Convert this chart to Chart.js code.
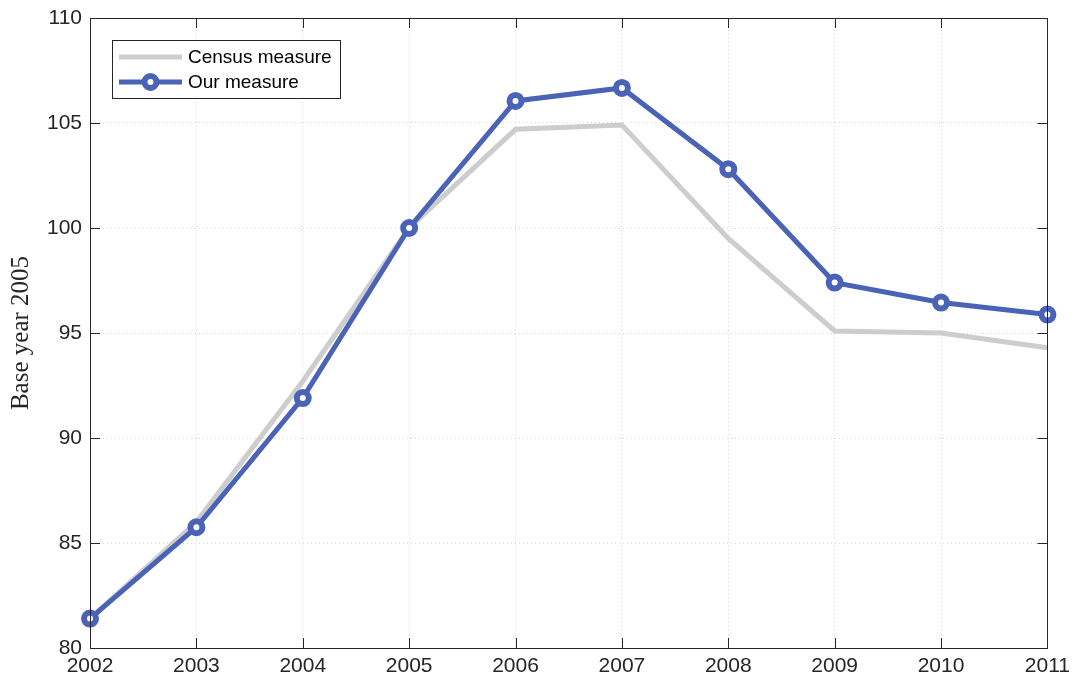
<!DOCTYPE html>
<html>
<head>
<meta charset="utf-8">
<script src="https://cdn.jsdelivr.net/npm/chart.js@4/dist/chart.umd.min.js"></script>
<style>
  html, body { margin: 0; padding: 0; background: #fff; }
  #wrap { width: 1076px; height: 687px; }
</style>
</head>
<body>
<div id="wrap"><canvas id="c" width="1076" height="687"></canvas></div>
<script>
// Index values, base year 2005 = 100
const years = ['2002', '2003', '2004', '2005', '2006', '2007', '2008', '2009', '2010', '2011'];
const censusMeasure = [81.4, 86.0, 92.7, 100.0, 104.7, 104.9, 99.5, 95.1, 95.0, 94.3];
const ourMeasure = [81.4, 85.75, 91.9, 100.0, 106.05, 106.67, 102.8, 97.4, 96.45, 95.88];
const yTicks = [80, 85, 90, 95, 100, 105, 110];

const AXIS_COLOR = '#262626';
const FONT = '"Liberation Sans", Arial, sans-serif';

// Box around the plot, inward tick marks on all four sides, and the legend box
const boxPlugin = {
  id: 'boxAxes',
  afterDatasetsDraw(chart) {
    const { ctx, chartArea: a, scales } = chart;
    const tl = 10;
    ctx.save();
    ctx.strokeStyle = AXIS_COLOR;
    ctx.lineWidth = 1;
    ctx.beginPath();
    ctx.rect(Math.round(a.left) + 0.5, Math.round(a.top) + 0.5,
             Math.round(a.right - a.left), Math.round(a.bottom - a.top));
    ctx.stroke();
    ctx.beginPath();
    scales.x.ticks.forEach((t, i) => {
      const x = Math.round(scales.x.getPixelForTick(i)) + 0.5;
      ctx.moveTo(x, a.bottom); ctx.lineTo(x, a.bottom - tl);
      ctx.moveTo(x, a.top); ctx.lineTo(x, a.top + tl);
    });
    scales.y.ticks.forEach(t => {
      const y = Math.round(scales.y.getPixelForValue(t.value)) + 0.5;
      ctx.moveTo(a.left, y); ctx.lineTo(a.left + tl, y);
      ctx.moveTo(a.right, y); ctx.lineTo(a.right - tl, y);
    });
    ctx.stroke();

    // legend
    const lx = a.left + 22, ly = a.top + 22, lw = 228, lh = 58;
    ctx.fillStyle = '#ffffff';
    ctx.fillRect(lx, ly, lw, lh);
    ctx.lineWidth = 1;
    ctx.strokeStyle = AXIS_COLOR;
    ctx.strokeRect(lx + 0.5, ly + 0.5, lw, lh);
    ctx.font = '19px ' + FONT;
    ctx.textBaseline = 'middle';
    chart.data.datasets.forEach((ds, i) => {
      const yy = ly + 17 + i * 25;
      ctx.strokeStyle = ds.borderColor;
      ctx.lineWidth = ds.borderWidth;
      ctx.beginPath();
      ctx.moveTo(lx + 7, yy); ctx.lineTo(lx + 70, yy);
      ctx.stroke();
      if (ds.pointRadius > 0) {
        ctx.beginPath();
        ctx.arc(lx + 38.5, yy, ds.pointRadius, 0, Math.PI * 2);
        ctx.fillStyle = ds.pointBackgroundColor;
        ctx.fill();
        ctx.lineWidth = ds.pointBorderWidth;
        ctx.strokeStyle = ds.pointBorderColor;
        ctx.stroke();
      }
      ctx.fillStyle = '#000000';
      ctx.fillText(ds.label, lx + 76, yy + 1);
    });
    ctx.restore();
  }
};

new Chart(document.getElementById('c'), {
  type: 'line',
  data: {
    labels: years,
    datasets: [
      {
        label: 'Census measure',
        data: censusMeasure,
        borderColor: '#cdcdcd',
        borderWidth: 5,
        pointRadius: 0,
        pointHoverRadius: 0,
        tension: 0,
        clip: false,
        order: 1
      },
      {
        label: 'Our measure',
        data: ourMeasure,
        borderColor: '#4a63b6',
        borderWidth: 5,
        pointRadius: 6,
        pointBorderWidth: 6,
        pointBorderColor: '#4a63b6',
        pointBackgroundColor: '#ffffff',
        tension: 0,
        clip: false,
        order: 0
      }
    ]
  },
  options: {
    responsive: false,
    animation: false,
    devicePixelRatio: 1,
    layout: { padding: { left: 0, top: 0, right: 28, bottom: 0 } },
    plugins: { legend: { display: false }, tooltip: { enabled: false } },
    scales: {
      x: {
        type: 'category',
        offset: false,
        grid: {
          color: '#d6d6d6',
          lineWidth: 1,
          drawTicks: false
        },
        border: { display: true, color: AXIS_COLOR, dash: [1, 3] },
        ticks: {
          color: '#262626',
          font: { family: FONT, size: 21 },
          padding: 6,
          maxRotation: 0,
          autoSkip: false
        },
        afterFit(scale) { scale.height = 39; }
      },
      y: {
        min: 80,
        max: 110,
        afterBuildTicks(scale) { scale.ticks = yTicks.map(v => ({ value: v })); },
        grid: {
          color: '#d6d6d6',
          lineWidth: 1,
          drawTicks: false
        },
        border: { display: true, color: AXIS_COLOR, dash: [1, 3] },
        ticks: {
          color: '#262626',
          font: { family: FONT, size: 21 },
          padding: 8
        },
        title: {
          display: true,
          text: 'Base year 2005',
          color: '#262626',
          font: { family: '"Liberation Serif", "DejaVu Serif", serif', size: 25 },
          padding: { top: 6, bottom: 0 }
        },
        afterFit(scale) {
          scale.width = 90;
          scale.paddingTop = 18;
          scale.paddingBottom = 0;
        }
      }
    }
  },
  plugins: [boxPlugin]
});
</script>
</body>
</html>
